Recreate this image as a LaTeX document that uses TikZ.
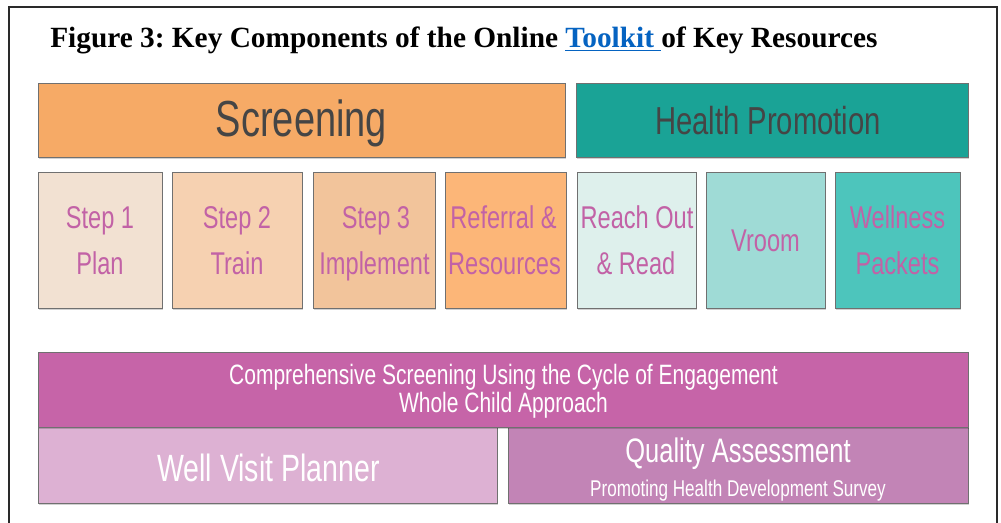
\documentclass[tikz,border=0pt]{standalone}
\usepackage{fontspec}
\setmainfont{Liberation Serif}
\newfontfamily\nar[FakeStretch=0.75]{Liberation Sans}
\usetikzlibrary{shadows,fit}
\frenchspacing
\definecolor{framecol}{HTML}{2A2A2A}
\definecolor{linkblue}{HTML}{0563C1}
\definecolor{bordergray}{HTML}{707070}
\definecolor{hdrgray}{HTML}{454545}
\definecolor{steppink}{HTML}{C262A6}
\definecolor{cScr}{HTML}{F6AA66}
\definecolor{cHP}{HTML}{1AA396}
\definecolor{cS1}{HTML}{F2E1D2}
\definecolor{cS2}{HTML}{F6D1B1}
\definecolor{cS3}{HTML}{F2C49B}
\definecolor{cRef}{HTML}{FCB678}
\definecolor{cRR}{HTML}{DEF0EC}
\definecolor{cVr}{HTML}{9FDBD6}
\definecolor{cWP}{HTML}{4DC5BC}
\definecolor{cComp}{HTML}{C664A8}
\definecolor{cWVP}{HTML}{DDB1D3}
\definecolor{cQA}{HTML}{C284B6}
\tikzset{
  box/.style={draw=bordergray, line width=0.7pt, inner sep=0pt, outer sep=0pt,
    drop shadow={opacity=0.18, shadow xshift=0.6pt, shadow yshift=-1.8pt, fill=black}},
  lbl/.style={anchor=base, inner sep=0pt, outer sep=0pt},
  hdr/.style={lbl, text=hdrgray},
  steptxt/.style={lbl, text=steppink, font=\nar\fontsize{23.6pt}{23.6pt}\selectfont},
  wtxt/.style={lbl, text=white},
}
\begin{document}
\begin{tikzpicture}[x=0.75pt,y=-0.75pt]
\useasboundingbox (0,0) rectangle (1001,523);
\fill[white] (0,0) rectangle (1001,523);
% frame
\draw[framecol, line width=1.1pt] (9,530) -- (9,7) -- (997,7) -- (997,530);
% title
\node[anchor=base west, inner sep=0pt, font=\bfseries\fontsize{22pt}{22pt}\selectfont] (title) at (50,48)
  {Figure 3: Key Components of the Online {\color{linkblue}$\underline{\hbox{Toolkit }}$}of Key Resources};
% header boxes
\node[box, fill=cScr, fit={(38,83) (565,157)}] (scr) {};
\node[box, fill=cHP, fit={(576,83) (968,157)}] (hp) {};
\node[hdr, font=\nar\fontsize{38pt}{38pt}\selectfont] (scrT) at (301.5,137) {Screening};
\node[hdr, font=\nar\fontsize{29.25pt}{29.25pt}\selectfont] (hpT) at (768,135) {Health Promotion};
% step boxes
\node[box, fill=cS1, fit={(38,172) (162,308)}] (s1) {};
\node[box, fill=cS2, fit={(172,172) (302,308)}] (s2) {};
\node[box, fill=cS3, fit={(313,172) (435,308)}] (s3) {};
\node[box, fill=cRef, fit={(445,172) (566,308)}] (ref) {};
\node[box, fill=cRR, fit={(577,172) (696,308)}] (rr) {};
\node[box, fill=cVr, fit={(706,172) (825,308)}] (vr) {};
\node[box, fill=cWP, fit={(835,172) (960,308)}] (wp) {};
\node[steptxt] (s1a) at (100,229) {Step 1};
\node[steptxt] (s1b) at (100,275) {Plan};
\node[steptxt] (s2a) at (237,229) {Step 2};
\node[steptxt] (s2b) at (237,275) {Train};
\node[steptxt] (s3a) at (376,229) {Step 3};
\node[steptxt] (s3b) at (374.5,275) {Implement};
\node[steptxt] (refa) at (503.5,229) {Referral \&};
\node[steptxt] (refb) at (504.5,275) {Resources};
\node[steptxt] (rra) at (637,229) {Reach Out};
\node[steptxt] (rrb) at (636,275) {\& Read};
\node[steptxt] (vra) at (765.5,252) {Vroom};
\node[steptxt] (wpa) at (897.5,229) {Wellness};
\node[steptxt] (wpb) at (897.5,275) {Packets};
% bottom boxes
\node[box, fill=cWVP, fit={(38,427) (497,503)}] (wvp) {};
\node[box, fill=cQA, fit={(508,427) (968,503)}] (qa) {};
\node[box, fill=cComp, fit={(38,352) (968,427)}] (comp) {};
\node[wtxt, font=\nar\fontsize{21pt}{21pt}\selectfont] (compa) at (503.5,385) {Comprehensive Screening Using the Cycle of Engagement};
\node[wtxt, font=\nar\fontsize{21pt}{21pt}\selectfont] (compb) at (503.5,413) {Whole Child Approach};
\node[wtxt, font=\nar\fontsize{28.5pt}{28.5pt}\selectfont] (wvpT) at (268.5,482) {Well Visit Planner};
\node[wtxt, font=\nar\fontsize{25.5pt}{25.5pt}\selectfont] (qaT) at (738,463) {Quality Assessment};
\node[wtxt, font=\nar\fontsize{17.1pt}{17.1pt}\selectfont] (qaS) at (738,497) {Promoting Health Development Survey};
\end{tikzpicture}
\end{document}
